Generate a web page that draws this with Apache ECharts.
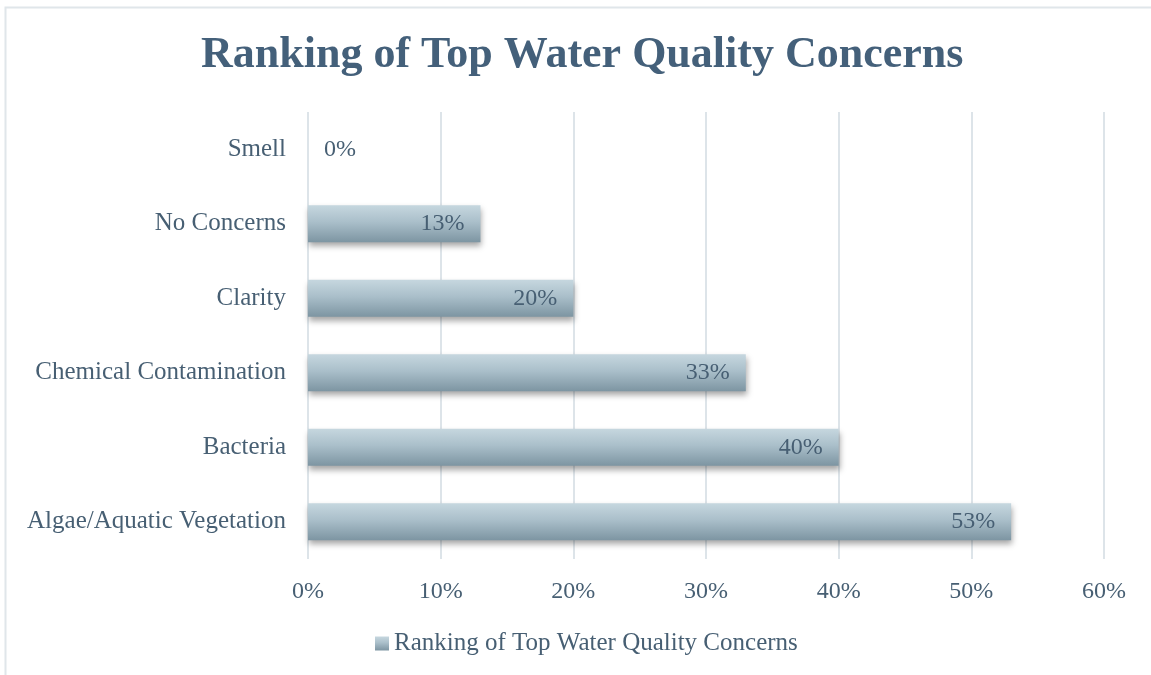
<!DOCTYPE html>
<html><head><meta charset="utf-8">
<script src="https://cdn.jsdelivr.net/npm/echarts@6/dist/echarts.min.js"></script>
<style>html,body{margin:0;padding:0;background:#fff}#c{width:1151px;height:675px}</style>
</head><body><div id="c"></div>
<script>
const categories = ["Algae/Aquatic Vegetation","Bacteria","Chemical Contamination","Clarity","No Concerns","Smell"];
const values = [53, 40, 33, 20, 13, 0];
const xTicks = [0, 10, 20, 30, 40, 50, 60];
const seriesName = "Ranking of Top Water Quality Concerns";

const txt = '#475f73';
const font = '"Liberation Serif","DejaVu Serif",serif';
const grad = new echarts.graphic.LinearGradient(0,0,0,1,[
  {offset:0,color:'#c6d7df'},{offset:0.45,color:'#aabfca'},{offset:1,color:'#7d95a2'}]);

const chart = echarts.init(document.getElementById('c'));
chart.setOption({
  animation:false,
  title:{text:seriesName,left:196,top:29,
    textStyle:{fontFamily:font,fontWeight:'bold',fontSize:44,color:'#44607a'}},
  grid:{left:308,right:47,top:112,bottom:116},
  xAxis:{type:'value',min:xTicks[0],max:xTicks[xTicks.length-1],interval:10,
    axisLine:{show:false},axisTick:{show:false},
    axisLabel:{formatter:v=>v+'%',fontFamily:font,fontSize:24,color:txt,margin:21},
    splitLine:{lineStyle:{color:'#dde4e9',width:2}}},
  yAxis:{type:'category',data:categories,
    axisLine:{show:false},axisTick:{show:false},
    axisLabel:{fontFamily:font,fontSize:25,color:txt,margin:22}},
  legend:{bottom:14,left:370,itemWidth:14,itemHeight:14,itemGap:6,
    textStyle:{fontFamily:font,fontSize:25,color:txt},
    data:[{name:seriesName,icon:'rect'}]},
  series:[{name:seriesName,type:'bar',barWidth:37,
    itemStyle:{color:grad,shadowColor:'rgba(0,0,0,0.35)',shadowBlur:6,shadowOffsetY:4,shadowOffsetX:1},
    label:{show:true,position:'insideRight',formatter:p=>p.value+'%',
      fontFamily:font,fontSize:24,color:txt,distance:16},
    data:values.map(v=>v===0?{value:v,label:{position:'right',distance:16}}:v)}],
  graphic:[{type:'polyline',shape:{points:[[5.5,675],[5.5,7.5],[1151,7.5]]},
    style:{stroke:'#e0e6ea',lineWidth:2,fill:null}}]
});
</script></body></html>
